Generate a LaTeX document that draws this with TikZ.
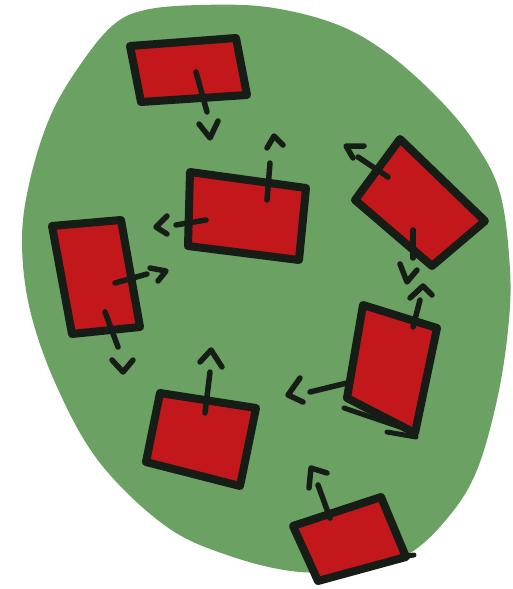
\documentclass[tikz,border=0pt]{standalone}
\usetikzlibrary{calc}
\definecolor{blobgreen}{HTML}{6BA263}
\definecolor{boxred}{HTML}{C2181B}
\definecolor{ink}{HTML}{161C16}
\tikzset{
  box/.style={fill=boxred, draw=ink, line width=8pt, line join=round, line cap=round},
  stroke/.style={draw=ink, line width=5.5pt, line cap=round, line join=round},
  chev/.style={draw=ink, line width=5.5pt, line cap=round, line join=round},
  extra/.style={draw=ink, line width=5pt, line cap=round}
}
\begin{document}
\begin{tikzpicture}[x=1pt,y=-1pt]
\useasboundingbox (0,0) rectangle (512,589);
% blob
\fill[blobgreen] plot[smooth cycle, tension=0.6] coordinates {
 (200,5) (267,7) (333,23) (383,50) (433,93) (473,140) (500,193) (510,270)
 (508,330) (497,400) (477,470) (450,515) (410,553) (360,568) (300,572)
 (233,557) (167,527) (100,463) (57,387) (30,310) (22,240) (30,180)
 (50,117) (78,68) (112,26) (145,10)};

% box 1 (top)
\draw[box] (130,46) -- (236,38) -- (247,95) -- (141,102) -- cycle;
\draw[stroke] (196,72) -- (207,112);
\draw[chev] (199,124) -- (210,138) -- (218,121);

% box 2 (middle top)
\draw[box] (190,172) -- (306,188) -- (299,260) -- (188,246) -- cycle;
\draw[stroke] (267,200) -- (270,163);
\draw[chev] (267,148) -- (274,136) -- (283,145);
\draw[stroke] (206,220) -- (176,225);
\draw[chev] (167,216) -- (156,227) -- (167,234);

% box 3 (left tall)
\draw[box] (52,226) -- (121,220) -- (140,327) -- (72,334) -- cycle;
\draw[stroke] (115,283) -- (147,274);
\draw[chev] (150,268) -- (166,271) -- (158,281);
\draw[stroke] (105,312) -- (118,347);
\draw[chev] (112,360) -- (123,372) -- (133,360);

% box 4 (right, rotated)
\draw[box] (400,139) -- (485,221) -- (432,266) -- (355,200) -- cycle;
\draw[stroke] (388,177) -- (358,157);
\draw[chev] (364,146) -- (346,146) -- (353,158);
\draw[stroke] (413,230) -- (413,258);
\draw[chev] (400,264) -- (407,282) -- (417,270);

% box 5 (right lower)
\draw[box] (363,305) -- (437,328) -- (415,433) -- (347,398) -- cycle;
\draw[extra] (344,408) -- (400,427);
\draw[extra] (387,432) -- (416,437);
\draw[stroke] (413,327) -- (420,300);
\draw[chev] (410,298) -- (423,286) -- (432,295);
\draw[stroke] (347,383) -- (310,392);
\draw[chev] (300,378) -- (288,395) -- (303,402);

% box 6 (bottom middle)
\draw[box] (160,393) -- (256,408) -- (240,486) -- (146,462) -- cycle;
\draw[stroke] (205,413) -- (210,372);
\draw[chev] (200,362) -- (211,350) -- (222,367);

% box 7 (bottom)
\draw[box] (293,526) -- (381,497) -- (406,557) -- (318,581) -- cycle;
\draw[extra] (400,557) -- (414,555);
\draw[stroke] (330,518) -- (318,485);
\draw[chev] (309,488) -- (311,468) -- (327,473);
\end{tikzpicture}
\end{document}
